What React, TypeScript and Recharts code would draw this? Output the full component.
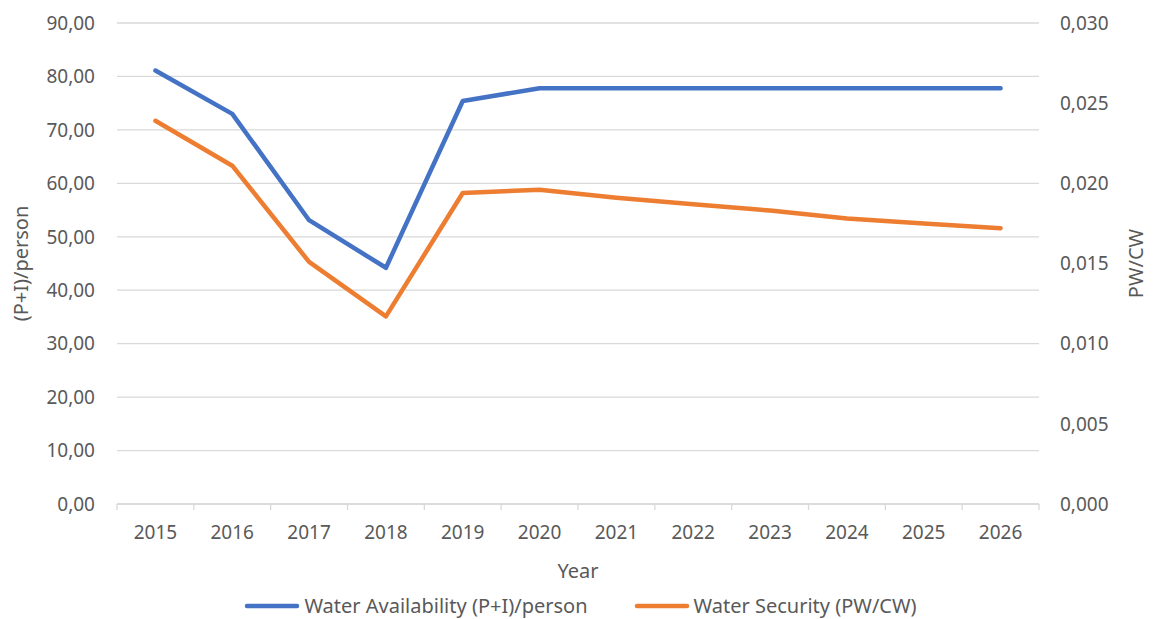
import React from 'react';
import { LineChart, Line, XAxis, YAxis, CartesianGrid, Legend, Label } from 'recharts';

// Category labels along the x axis
const years = ['2015', '2016', '2017', '2018', '2019', '2020', '2021', '2022', '2023', '2024', '2025', '2026'];

// Water Availability (P+I)/person — left axis
const availability = [81.1, 73.0, 53.1, 44.2, 75.4, 77.8, 77.8, 77.8, 77.8, 77.8, 77.8, 77.8];

// Water Security (PW/CW) — right axis
const security = [0.0239, 0.0211, 0.0151, 0.0117, 0.0194, 0.0196, 0.0191, 0.0187, 0.0183, 0.0178, 0.0175, 0.0172];

// Axis ticks
const leftTicks = [0, 10, 20, 30, 40, 50, 60, 70, 80, 90];
const rightTicks = [0, 0.005, 0.01, 0.015, 0.02, 0.025, 0.03];

const seriesNames = ['Water Availability (P+I)/person', 'Water Security (PW/CW)'];
const seriesColors = ['#4472C4', '#ED7D31'];

const data = years.map((year, i) => ({
  year,
  availability: availability[i],
  security: security[i],
}));

const FONT = '"Noto Sans", sans-serif';
const TEXT = '#595959';
const GRID = '#d9d9d9';
const TICK_SIZE = 19;
const X_TICK_GAP = 22;
const X_MARK_LEN = 6;

const fmtLeft = (v: number) => v.toFixed(2).replace('.', ',');
const fmtRight = (v: number) => v.toFixed(3).replace('.', ',');

// Year label plus tick marks on the category boundaries either side of it
const YearTick = (props: any) => {
  const { x, y, payload, index, visibleTicksCount } = props;
  const half = payload?.offset ?? 0;
  const axisY = y - X_TICK_GAP;
  const isLast = index === visibleTicksCount - 1;
  return (
    <g>
      <line x1={x - half} y1={axisY} x2={x - half} y2={axisY + X_MARK_LEN} stroke={GRID} strokeWidth={1.3} />
      {isLast && (
        <line x1={x + half} y1={axisY} x2={x + half} y2={axisY + X_MARK_LEN} stroke={GRID} strokeWidth={1.3} />
      )}
      <text x={x} y={y} dy="0.71em" textAnchor="middle" fill={TEXT} fontSize={TICK_SIZE} fontFamily={FONT}>
        {payload.value}
      </text>
    </g>
  );
};

const renderLegend = () => (
  <div
    style={{
      display: 'flex',
      justifyContent: 'center',
      alignItems: 'center',
      gap: 46,
      height: 26,
      lineHeight: '26px',
      fontFamily: FONT,
      fontSize: 20,
      color: TEXT,
      paddingLeft: 8,
    }}
  >
    {seriesNames.map((name, i) => (
      <div key={name} style={{ display: 'flex', alignItems: 'center' }}>
        <svg width={56} height={8} style={{ marginRight: 4 }}>
          <line x1={3} y1={4} x2={53} y2={4} stroke={seriesColors[i]} strokeWidth={4.5} strokeLinecap="round" />
        </svg>
        <span>{name}</span>
      </div>
    ))}
  </div>
);

const LeftTitle = (props: any) => {
  const vb = props.viewBox;
  const cx = vb.x + 20;
  const cy = vb.y + vb.height / 2;
  return (
    <text x={cx} y={cy} transform={`rotate(-90 ${cx} ${cy})`} textAnchor="middle" dominantBaseline="central" fill={TEXT} fontSize={20} fontFamily={FONT}>
      (P+I)/person
    </text>
  );
};

const RightTitle = (props: any) => {
  const vb = props.viewBox;
  const cx = vb.x + vb.width - 18;
  const cy = vb.y + vb.height / 2;
  return (
    <text x={cx} y={cy} transform={`rotate(-90 ${cx} ${cy})`} textAnchor="middle" dominantBaseline="central" fill={TEXT} fontSize={20} fontFamily={FONT}>
      PW/CW
    </text>
  );
};

const XTitle = (props: any) => {
  const vb = props.viewBox;
  return (
    <text x={vb.x + vb.width / 2} y={vb.y + 66} textAnchor="middle" dominantBaseline="central" fill={TEXT} fontSize={20} fontFamily={FONT}>
      Year
    </text>
  );
};

export default function App() {
  return (
    <div style={{ position: 'absolute', left: 0, top: 0, background: '#fff' }}>
      <LineChart width={1153} height={619} data={data} margin={{ top: 23, right: 0, bottom: 0, left: 0 }}>
        <CartesianGrid vertical={false} stroke={GRID} strokeWidth={1.3} yAxisId="left" />
        <XAxis
          dataKey="year"
          scale="band"
          height={89}
          axisLine={{ stroke: GRID, strokeWidth: 1.3 }}
          tickLine={false}
          tickSize={0}
          tickMargin={X_TICK_GAP}
          tick={<YearTick />}
          interval={0}
        >
          <Label content={<XTitle />} />
        </XAxis>
        <YAxis
          yAxisId="left"
          width={117}
          domain={[0, 90]}
          ticks={leftTicks}
          tickFormatter={fmtLeft}
          axisLine={false}
          tickLine={false}
          tickSize={0}
          tickMargin={22}
          tick={{ fill: TEXT, fontSize: TICK_SIZE, fontFamily: FONT }}
        >
          <Label content={<LeftTitle />} />
        </YAxis>
        <YAxis
          yAxisId="right"
          orientation="right"
          width={114}
          domain={[0, 0.03]}
          ticks={rightTicks}
          tickFormatter={fmtRight}
          axisLine={false}
          tickLine={false}
          tickSize={0}
          tickMargin={21}
          tick={{ fill: TEXT, fontSize: TICK_SIZE, fontFamily: FONT }}
        >
          <Label content={<RightTitle />} />
        </YAxis>
        <Legend verticalAlign="bottom" height={26} content={renderLegend} />
        <Line
          yAxisId="left"
          dataKey="availability"
          name={seriesNames[0]}
          stroke={seriesColors[0]}
          strokeWidth={4.5}
          strokeLinecap="round"
          strokeLinejoin="round"
          dot={false}
          activeDot={false}
          isAnimationActive={false}
        />
        <Line
          yAxisId="right"
          dataKey="security"
          name={seriesNames[1]}
          stroke={seriesColors[1]}
          strokeWidth={4.5}
          strokeLinecap="round"
          strokeLinejoin="round"
          dot={false}
          activeDot={false}
          isAnimationActive={false}
        />
      </LineChart>
    </div>
  );
}
